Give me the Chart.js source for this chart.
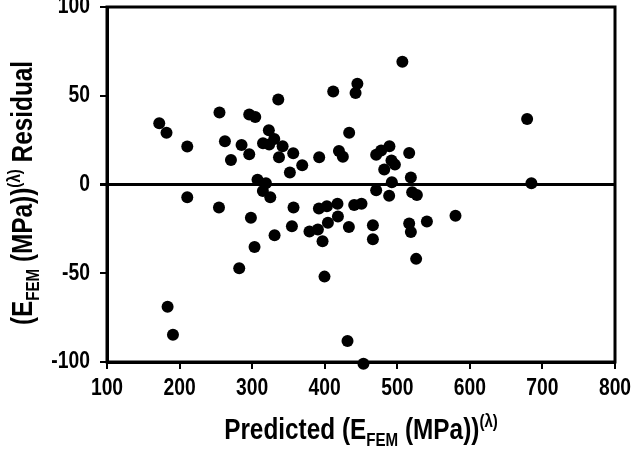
<!DOCTYPE html>
<html>
<head>
<meta charset="utf-8">
<script src="https://cdn.jsdelivr.net/npm/chart.js@4.4.1/dist/chart.umd.min.js"></script>
<style>
  html, body { margin: 0; padding: 0; background: #fff; }
  #wrap { width: 632px; height: 450px; position: relative; }
</style>
</head>
<body>
<div id="wrap"><canvas id="myChart"></canvas></div>
<script>
// predicted values (x) and residuals (y)
const predicted = [
  172, 182, 210.6, 255, 262.5, 270.8, 285.4, 296, 296, 304.3,
  336, 323, 315, 323.5, 330.5, 342, 337, 356.6, 352, 369,
  392.4, 411.7, 442.5, 445, 433.7, 419.6, 425, 307.4, 319, 314.8,
  325, 210.6, 507, 678.9, 489.2, 477.8, 470.9, 516.4, 492, 496.7,
  482, 492.5, 518.7, 684.8, 470.9, 488.8, 520.5, 527, 254.3, 298.3,
  357, 330.9, 303.3, 354.8, 282.2, 183.5, 190.9, 392, 403, 417.6,
  404.4, 418.2, 379, 390.6, 397, 433.3, 440.6, 450.7, 466.4, 466.4,
  399.7, 431.4, 453.4, 516.4, 518.7, 540.8, 526, 580.2
];
const residual = [
  34.5, 29.2, 21.4, 40.5, 24.3, 13.8, 22.3, 17, 39.4, 38,
  47.9, 30.5, 23.3, 22.5, 25.7, 21.6, 15.3, 17.6, 6.8, 10.8,
  15.3, 52.4, 51.5, 56.8, 29.2, 18.9, 15.7, 2.7, 0.7, -3.6,
  -7.2, -7.2, 69.1, 36.9, 21.6, 19.1, 16.8, 17.8, 13.5, 11.2,
  8.5, 1.3, 4, 0.7, -3.2, -6.4, -4.4, -5.9, -12.9, -18.75,
  -12.9, -28.6, -35.2, -23.5, -47.2, -68.9, -84.7, -13.5, -12.3, -10.8,
  -21.6, -18, -26.5, -25.4, -32, -24, -11.5, -10.8, -22.9, -30.9,
  -51.9, -88.2, -101, -22, -26.7, -20.8, -41.9, -17.6
];
const xTicks = [100, 200, 300, 400, 500, 600, 700, 800];
const yTicks = [-100, -50, 0, 50, 100];

const FAMILY = '"Liberation Sans Narrow", "Liberation Sans", Arial, sans-serif';
const SQUEEZE = 0.84;  // the original font is a condensed one

// draws text with sub/superscripts centred at (cx, cy), optionally rotated
function drawRich(ctx, parts, cx, cy, angle){
    const big = 'bold 29px ' + FAMILY;
    const small = 'bold 18px ' + FAMILY;
    let total = 0;
    for (let p of parts){
        ctx.font = p[1] == 'n' ? big : small;
        total += ctx.measureText(p[0]).width;
    }
    ctx.save();
    ctx.translate(cx, cy);
    ctx.rotate(angle);
    ctx.scale(SQUEEZE, 1);
    ctx.fillStyle = '#000';
    ctx.textBaseline = 'alphabetic';
    ctx.textAlign = 'left';
    let x = -total / 2;
    for (let p of parts){
        ctx.font = p[1] == 'n' ? big : small;
        let dy = 10;
        if (p[1] == 'sub') dy = 17;
        if (p[1] == 'sup') dy = -2;
        ctx.fillText(p[0], x, dy);
        x += ctx.measureText(p[0]).width;
    }
    ctx.restore();
}

function drawLabel(ctx, text, x, y, align){
    ctx.save();
    ctx.translate(x, y);
    ctx.scale(SQUEEZE, 1);
    ctx.font = 'bold 23px ' + FAMILY;
    ctx.fillStyle = '#000';
    ctx.textAlign = align;
    ctx.textBaseline = 'middle';
    ctx.fillText(text, 0, 0);
    ctx.restore();
}

const framePlugin = {
    id: 'frameAndTitles',
    afterDraw(chart){
        const ctx = chart.ctx;
        const a = chart.chartArea;
        ctx.save();
        ctx.strokeStyle = '#000';
        ctx.lineWidth = 3;
        ctx.strokeRect(a.left, a.top, a.right - a.left, a.bottom - a.top);
        ctx.restore();
        // tick labels
        for (let v of xTicks){
            drawLabel(ctx, String(v), chart.scales.x.getPixelForValue(v), a.bottom + 27, 'center');
        }
        for (let v of yTicks){
            drawLabel(ctx, String(v), a.left - 17, chart.scales.y.getPixelForValue(v), 'right');
        }
        drawRich(ctx, [['Predicted (E', 'n'], ['FEM', 'sub'], [' (MPa))', 'n'], ['(λ)', 'sup']],
            (a.left + a.right) / 2, 429, 0);
        drawRich(ctx, [['(E', 'n'], ['FEM', 'sub'], [' (MPa))', 'n'], ['(λ)', 'sup'], [' Residual', 'n']],
            22, 193, -Math.PI / 2);
    }
};

const points = predicted.map((x, i) => ({x: x, y: residual[i]}));

const config = {
    type: 'scatter',
    data: {
        datasets: [{
            data: points,
            backgroundColor: '#000',
            borderWidth: 0,
            pointRadius: 6,
            clip: false
        }]
    },
    options: {
        responsive: true,
        maintainAspectRatio: false,
        animation: false,
        layout: { padding: { top: 7, right: 17, left: 0, bottom: 0 } },
        plugins: {
            legend: { display: false },
            tooltip: { enabled: false }
        },
        scales: {
            x: {
                type: 'linear',
                min: 100,
                max: 800,
                afterBuildTicks: s => { s.ticks = xTicks.map(v => ({value: v})); },
                ticks: { display: false },
                grid: { drawOnChartArea: false, tickLength: 7, color: '#000', lineWidth: 2 },
                border: { color: '#000', width: 3 },
                afterFit: s => { s.height = 88; s.paddingLeft = 0; s.paddingRight = 0; }
            },
            y: {
                min: -100,
                max: 100,
                afterBuildTicks: s => { s.ticks = yTicks.map(v => ({value: v})); },
                ticks: { display: false },
                grid: {
                    color: c => (c.tick && c.tick.value === 0) ? '#000' : 'rgba(0,0,0,0)',
                    tickColor: '#000',
                    lineWidth: c => (c.tick && c.tick.value === 0) ? 3 : 2,
                    tickLength: 7
                },
                border: { color: '#000', width: 3 },
                afterFit: s => { s.width = 107; s.paddingTop = 0; s.paddingBottom = 0; }
            }
        }
    },
    plugins: [framePlugin]
};

new Chart(document.getElementById('myChart').getContext('2d'), config);
</script>
</body>
</html>
